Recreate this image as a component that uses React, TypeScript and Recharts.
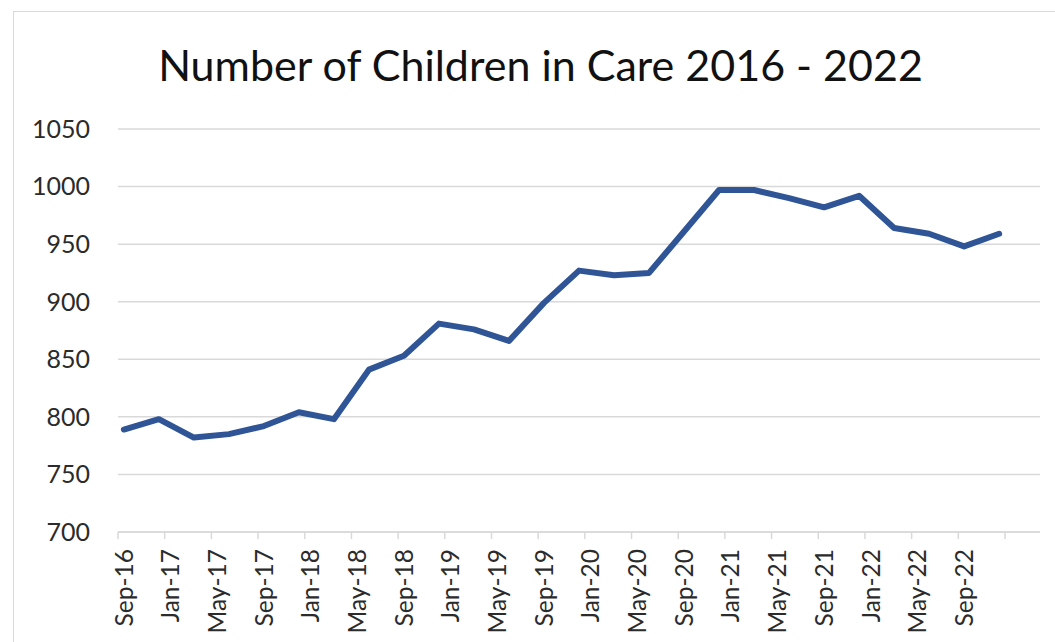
import { CartesianGrid, Line, LineChart, XAxis, YAxis } from "recharts";

// quarterly counts, Sep-16 through Dec-22
const quarters = [
  "Sep-16", "Dec-16", "Mar-17", "Jun-17", "Sep-17", "Dec-17", "Mar-18",
  "Jun-18", "Sep-18", "Dec-18", "Mar-19", "Jun-19", "Sep-19", "Dec-19",
  "Mar-20", "Jun-20", "Sep-20", "Dec-20", "Mar-21", "Jun-21", "Sep-21",
  "Dec-21", "Mar-22", "Jun-22", "Sep-22", "Dec-22",
];
const children = [
  789, 798, 782, 785, 792, 804, 798, 841, 853, 881, 876, 866, 899, 927,
  923, 925, 961, 997, 997, 990, 982, 992, 964, 959, 948, 959,
];
const tickLabels = [
  "Sep-16", "Jan-17", "May-17", "Sep-17", "Jan-18", "May-18", "Sep-18",
  "Jan-19", "May-19", "Sep-19", "Jan-20", "May-20", "Sep-20", "Jan-21",
  "May-21", "Sep-21", "Jan-22", "May-22", "Sep-22",
];
const yTicks = [700, 750, 800, 850, 900, 950, 1000, 1050];

// x is months since Sep-16; each point sits in the middle of its month
const data = quarters.map((q, i) => ({ q, m: i * 3 + 0.5, children: children[i] }));
const totalMonths = quarters.length * 3 + 1;
const xTicks = Array.from({ length: totalMonths / 4 + 1 }, (_, i) => i * 4);

const FONT = "Lato, 'Open Sans', sans-serif";
const TEXT = "#2b2b2b";

const MonthTick = ({ x, y, payload }: any) => {
  const label = tickLabels[payload.value / 4];
  if (!label) return null;
  return (
    <text
      transform={`translate(${x + 6},${y + 8}) rotate(-90)`}
      textAnchor="end"
      dy="0.35em"
      fontSize={24.5}
      fontFamily={FONT}
      fill={TEXT}
    >
      {label}
    </text>
  );
};

export default function App() {
  return (
    <div
      style={{
        position: "fixed",
        left: 0,
        top: 0,
        width: 1055,
        height: 642,
        overflow: "hidden",
        background: "#fff",
      }}
    >
      <div
        style={{
          position: "absolute",
          left: 13,
          top: 11,
          width: 1100,
          height: 700,
          border: "1.5px solid #d9d9d9",
        }}
      />
      <div
        style={{
          position: "absolute",
          left: 0,
          width: 1081,
          top: 43,
          textAlign: "center",
          fontFamily: FONT,
          fontSize: 43,
          lineHeight: "43px",
          color: "#111",
          whiteSpace: "nowrap",
        }}
      >
        Number of Children in Care 2016 - 2022
      </div>
      <div style={{ position: "absolute", left: 0, top: 0 }}>
        <LineChart
          width={1055}
          height={642}
          data={data}
          margin={{ top: 129, right: 15, bottom: 0, left: 18 }}
        >
          <CartesianGrid vertical={false} stroke="#d9d9d9" strokeWidth={1.5} />
          <XAxis
            type="number"
            dataKey="m"
            domain={[0, totalMonths]}
            ticks={xTicks}
            interval={0}
            tick={<MonthTick />}
            tickSize={7}
            stroke="#d9d9d9"
            strokeWidth={1.5}
            height={110}
          />
          <YAxis
            domain={[700, 1050]}
            ticks={yTicks}
            interval={0}
            width={100}
            axisLine={false}
            tickLine={false}
            tickMargin={22}
            tick={{ fontSize: 25, fontFamily: FONT, fill: TEXT }}
          />
          <Line
            type="linear"
            dataKey="children"
            stroke="#2F5597"
            strokeWidth={6}
            dot={false}
            strokeLinejoin="round"
            strokeLinecap="round"
            isAnimationActive={false}
          />
        </LineChart>
      </div>
    </div>
  );
}
